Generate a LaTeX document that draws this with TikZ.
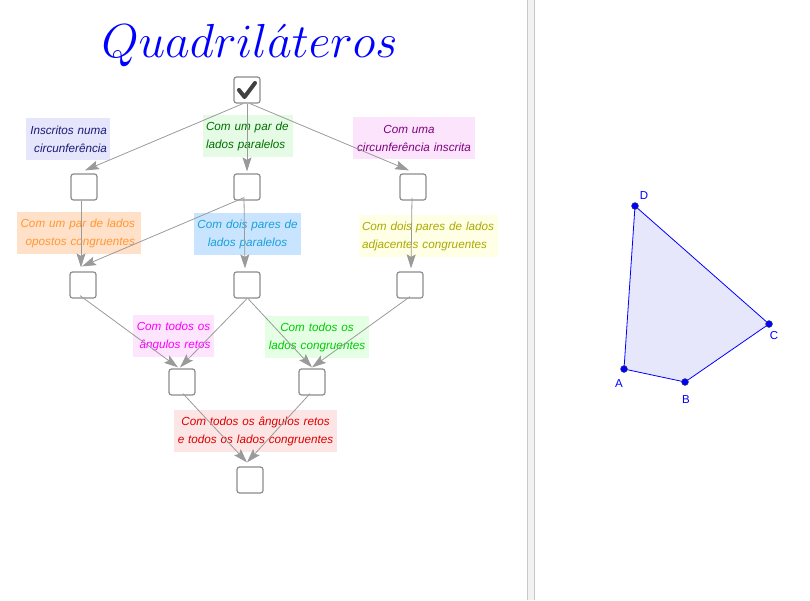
\documentclass[tikz,border=0pt]{standalone}
\usepackage{fontspec}
\setmainfont{Liberation Sans}
\usepackage{tikz}
\usetikzlibrary{arrows.meta}

\definecolor{boxgray}{HTML}{8C8C8C}
\definecolor{linkgray}{HTML}{9A9A9A}
\definecolor{polyfill}{HTML}{E7E7FB}
\definecolor{bgnavy}{HTML}{E5E5FB}
\definecolor{fgnavy}{HTML}{1A1A7A}
\definecolor{bgleaf}{HTML}{E5FBE5}
\definecolor{fgleaf}{HTML}{007000}
\definecolor{bgpurple}{HTML}{FCE5FC}
\definecolor{fgpurple}{HTML}{7F007F}
\definecolor{bgorange}{HTML}{FFE0C8}
\definecolor{fgorange}{HTML}{FF9933}
\definecolor{bgsky}{HTML}{C8E4FF}
\definecolor{fgsky}{HTML}{1A9FD9}
\definecolor{bgyellow}{HTML}{FFFFE5}
\definecolor{fgyellow}{HTML}{AAAA00}
\definecolor{bgpink}{HTML}{FDE5FD}
\definecolor{fgpink}{HTML}{FF00FF}
\definecolor{bglime}{HTML}{E5FFE5}
\definecolor{fglime}{HTML}{00CC00}
\definecolor{bgred}{HTML}{FDE5E5}
\definecolor{fgred}{HTML}{DD0000}

\tikzset{
	chk/.style={draw=boxgray, line width=1.2pt, rounded corners=2.5pt, minimum size=26pt, inner sep=0pt, fill=white},
	lbl/.style n args={3}{fill=#1, text=#2, align=#3, inner ysep=0pt, inner xsep=3pt, minimum height=42pt, font=\fontsize{11.7}{18}\selectfont\itshape},
	link/.style={draw=linkgray, line width=0.8pt, -{Stealth[length=14pt,width=9pt,inset=2.5pt]}},
	pt/.style={circle, fill=blue, draw=black!70, line width=0.4pt, minimum size=7pt, inner sep=0pt},
	ptname/.style={text=blue, font=\fontsize{11.5}{14}\selectfont}
}

\begin{document}
\begin{tikzpicture}[x=1pt, y=-1pt]
	\useasboundingbox (0,0) rectangle (810,600);
	\fill[white!95!black] (527,0) rectangle (535,600);
	\draw[black!22, line width=0.8pt] (527.5,0) -- (527.5,600);
	\draw[black!22, line width=0.8pt] (534.5,0) -- (534.5,600);

	\node[text=blue, scale=1.92, font=\Huge] (title) at (249.5,46) {$Quadril\acute{a}teros$};

	% caixas
	\node[chk] (top) at (247,90) {};
	\node[chk] (b1) at (84,187) {};
	\node[chk] (b2) at (247,187) {};
	\node[chk] (b3) at (413,187) {};
	\node[chk] (c1) at (83,285) {};
	\node[chk] (c2) at (247,285) {};
	\node[chk] (c3) at (410,285) {};
	\node[chk] (d1) at (182,382) {};
	\node[chk] (d2) at (312,382) {};
	\node[chk] (e) at (250,480) {};
	\draw[line width=4pt, black!75, line cap=round, line join=round] (239,90) -- (244.5,97) -- (255,83);

	% etiquetas
	\node[lbl={bgnavy}{fgnavy}{right}, text width=78pt] (inscritos) at (68,139) {Inscritos numa\\circunferência};
	\node[lbl={bgleaf}{fgleaf}{left}, text width=84pt] (umpar) at (248,136) {Com um par de\\lados paralelos};
	\node[lbl={bgpurple}{fgpurple}{center}, text width=116pt] (inscrita) at (414,138) {Com uma\hspace*{10pt}\mbox{}\\circunferência inscrita};
	\node[lbl={bgorange}{fgorange}{right}, text width=118pt] (opostos) at (79,233) {Com um par de lados\hspace*{3pt}\mbox{}\\opostos congruentes\hspace*{3pt}\mbox{}};
	\node[lbl={bgsky}{fgsky}{center}, text width=101pt] (doispares) at (247.5,234) {Com dois pares de\\lados paralelos};
	\node[lbl={bgyellow}{fgyellow}{left}, text width=133pt] (adjacentes) at (428.5,236) {Com dois pares de lados\\adjacentes congruentes};
	\node[lbl={bgpink}{fgpink}{center}, text width=75pt] (retos) at (173.5,336) {Com todos os\\\hspace*{3pt}ângulos retos};
	\node[lbl={bglime}{fglime}{center}, text width=98pt] (lados) at (317,337) {Com todos os\\lados congruentes};
	\node[lbl={bgred}{fgred}{center}, text width=157pt] (todos) at (255.5,431) {Com todos os ângulos retos\\e todos os lados congruentes};

	% setas
	\draw[link] ([xshift=-4pt]top.south) -- ([xshift=1pt,yshift=3pt]b1.north);
	\draw[link] (top.south) -- ([yshift=2pt]b2.north);
	\draw[link] ([xshift=3pt]top.south) -- ([xshift=-4pt,yshift=3pt]b3.north);
	\draw[link] ([xshift=-3pt]b1.south) -- ([xshift=-2pt,yshift=4pt]c1.north);
	\draw[link] ([xshift=-3pt,yshift=3pt]b2.south) -- ([xshift=-1pt,yshift=5pt]c1.north);
	\draw[link] ([xshift=-3pt,yshift=3pt]b2.south) -- ([xshift=-2pt,yshift=3pt]c2.north);
	\draw[link] ([xshift=-1pt,yshift=3pt]b3.south) -- ([xshift=1pt,yshift=3pt]c3.north);
	\draw[link] ([xshift=-3pt,yshift=3pt]c1.south) -- ([xshift=-4pt,yshift=1pt]d1.north);
	\draw[link] (c2.south) -- ([xshift=-2pt,yshift=1pt]d1.north);
	\draw[link] ([xshift=1pt]c2.south) -- ([yshift=1pt]d2.north);
	\draw[link] ([yshift=2pt]c3.south) -- ([yshift=1pt]d2.north);
	\draw[link] ([xshift=1pt,yshift=2pt]d1.south) -- ([xshift=-3pt,yshift=4pt]e.north);
	\draw[link] ([xshift=-2pt,yshift=2pt]d2.south) -- ([xshift=-3pt,yshift=4pt]e.north);

	% quadrilatero
	\coordinate (A) at (624,369);
	\coordinate (B) at (685,382);
	\coordinate (C) at (769,324);
	\coordinate (D) at (635,206);
	\draw[blue, line width=0.8pt, fill=polyfill] (A) -- (B) -- (C) -- (D) -- cycle;
	\foreach \p in {A, B, C, D}
		\node[pt] (pt\p) at (\p) {};
	\node[ptname] (nameA) at (619,384) {A};
	\node[ptname] (nameB) at (686,400) {B};
	\node[ptname] (nameC) at (774,336) {C};
	\node[ptname] (nameD) at (644,196) {D};
\end{tikzpicture}
\end{document}
